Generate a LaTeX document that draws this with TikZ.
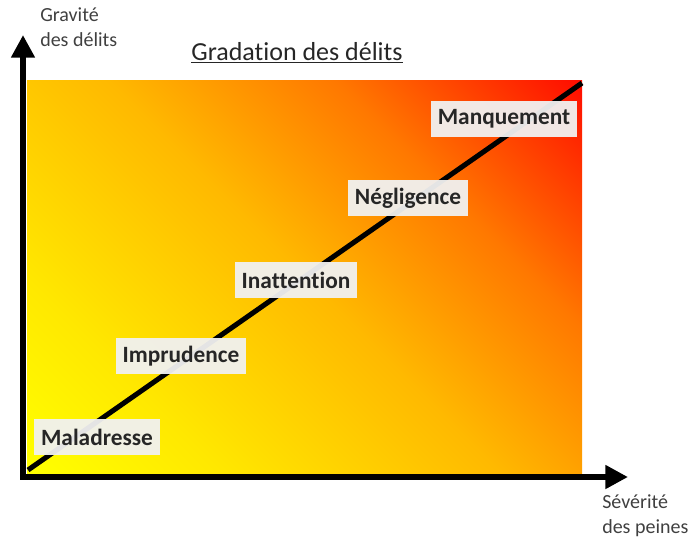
\documentclass[tikz,border=0pt]{standalone}
\usepackage{fontspec}
\setmainfont[Ligatures=NoCommon]{Carlito}
\usetikzlibrary{arrows.meta}
\definecolor{jaune}{RGB}{255,255,0}
\definecolor{jaunedore}{RGB}{255,232,0}
\definecolor{orjaune}{RGB}{255,185,0}
\definecolor{orange}{RGB}{255,120,0}
\definecolor{rouge}{RGB}{255,15,0}
\pgfdeclarehorizontalshading{delits}{100bp}{color(0bp)=(jaune); color(15bp)=(jaune); color(29bp)=(jaunedore); color(50bp)=(orjaune); color(67bp)=(orange); color(85bp)=(rouge); color(100bp)=(rouge)}
\tikzset{
  fleche/.tip={Triangle[length=17pt,width=17pt]},
  axe/.style={line width=4.5pt, line join=miter},
  etiquette/.style={fill=gray!11, fill opacity=0.95, text opacity=1, text=black!85,
    font=\bfseries\fontsize{17.5}{21}\selectfont, inner xsep=5pt, minimum height=27pt},
  legende/.style={align=left, text=black!75, font=\fontsize{15}{19}\selectfont,
    anchor=north west, inner sep=0pt}
}
\begin{document}
\begin{tikzpicture}[x=0.75pt, y=-0.75pt]
	\useasboundingbox (0,0) rectangle (688,537);
	% fond
	\shade[shading=delits, shading angle=45] (27,80) rectangle (582,474);
	% axes
	\coordinate (origine) at (23,477);
	\coordinate (haut) at (23,35);
	\coordinate (droite) at (628,477);
	\draw[axe, fleche-fleche] (haut) -- (origine) -- (droite);
	\node[legende] (gravite) at (40,7) {Gravité\\des délits};
	\node[legende] (severite) at (602,494) {Sévérité\\des peines};
	% titre
	\node[anchor=base, inner sep=0pt, text=black!85, font=\fontsize{19.5}{23}\selectfont] (titre) at (297,60) {\underline{Gradation des délits}};
	% diagonale
	\coordinate (debut) at (28,470);
	\coordinate (fin) at (582,83);
	\draw[line width=3.8pt] (debut) -- (fin);
	% degres
	\node[etiquette] (maladresse) at (97,437) {Maladresse};
	\node[etiquette] (imprudence) at (181,356) {Imprudence};
	\node[etiquette] (inattention) at (296,280) {Inattention};
	\node[etiquette] (negligence) at (408,198) {Négligence};
	\node[etiquette] (manquement) at (504,119) {Manquement};
\end{tikzpicture}
\end{document}
